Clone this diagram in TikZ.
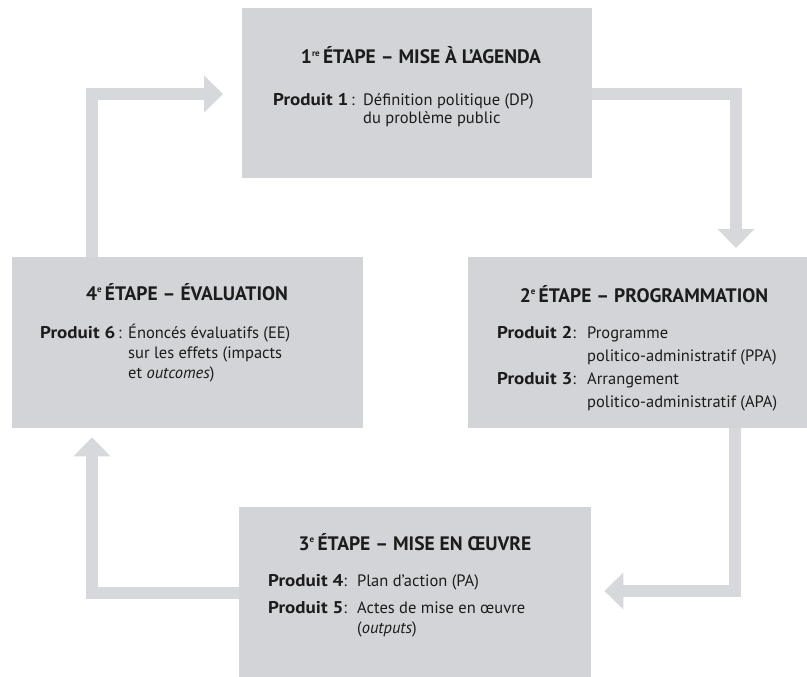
\documentclass[tikz,border=0pt]{standalone}
\usepackage{fontspec}
\setmainfont{PT Sans}
\usetikzlibrary{arrows.meta}
\definecolor{boxgray}{HTML}{D3D4D8}
\definecolor{arrowgray}{HTML}{D7D8DB}
\definecolor{ink}{HTML}{1C1C1C}
\tikzset{
  stagebox/.style={fill=boxgray, draw=none, inner sep=0pt, anchor=north west},
  heading/.style={font=\fontsize{19.5}{22}\selectfont\bfseries, text=ink, inner sep=0pt, anchor=base},
  prod/.style={font=\fontsize{16.5}{20}\selectfont, text=ink, inner sep=0pt, anchor=base west},
  flow/.style={draw=arrowgray, line width=12pt, line join=miter,
    -{Triangle[width=37pt,length=19pt,line width=0pt]}}
}
\newcommand{\prodlab}[1]{{\fontsize{17}{20}\selectfont\bfseries\addfontfeatures{FakeStretch=1.12}Produit #1}}
\newcommand{\ordsup}[1]{\raisebox{0.75ex}{\fontsize{9}{9}\selectfont #1}\,}
\begin{document}
\begin{tikzpicture}[x=1pt,y=-1pt]
\useasboundingbox (0,0) rectangle (807,677);
% boxes
\node[stagebox, minimum width=350pt, minimum height=170pt] (T) at (242,8) {};
\node[stagebox, minimum width=351pt, minimum height=171pt] (L) at (12,257) {};
\node[stagebox, minimum width=339pt, minimum height=171pt] (R) at (468,257) {};
\node[stagebox, minimum width=352pt, minimum height=170pt] (B) at (239,507) {};
% headings
\node[heading] (Th) at (421,64) {1\ordsup{re}ÉTAPE – MISE À L’AGENDA};
\node[heading] (Lh) at (187,300) {4\ordsup{e}ÉTAPE – ÉVALUATION};
\node[heading] (Rh) at (644,302) {2\ordsup{e}ÉTAPE – PROGRAMMATION};
\node[heading] (Bh) at (415,550) {3\ordsup{e}ÉTAPE – MISE EN ŒUVRE};
% products
\node[prod] (Tp) at (273,106) {\begin{tabular}[t]{@{}p{90pt}@{}l@{}}
\prodlab{1}\,: & Définition politique (DP)\\[-2pt]
 & du problème public
\end{tabular}};
\node[prod] (Lp) at (40,338) {\begin{tabular}[t]{@{}p{88pt}@{}l@{}}
\prodlab{6}\,: & Énoncés évaluatifs (EE)\\
 & sur les effets (impacts\\
 & et \textit{outcomes})
\end{tabular}};
\node[prod] (Rp) at (497,338) {\begin{tabular}[t]{@{}p{90pt}@{}l@{}}
\prodlab{2}: & Programme\\[3pt]
 & politico-administratif (PPA)\\[3pt]
\prodlab{3}: & Arrangement\\[3pt]
 & politico-administratif (APA)
\end{tabular}};
\node[prod] (Bp) at (268,586) {\begin{tabular}[t]{@{}p{89pt}@{}l@{}}
\prodlab{4}: & Plan d’action (PA)\\[7pt]
\prodlab{5}: & Actes de mise en œuvre\\
 & (\textit{outputs})
\end{tabular}};
% connectors
\draw[flow, shorten >=19pt] ([xshift=80pt]L.north west) |- ([yshift=-86pt]T.north west);
\draw[flow, shorten >=9pt] ([yshift=-86pt]T.north east) -| ([xshift=268pt]R.north west);
\draw[flow, shorten >=13pt] ([xshift=267pt]R.south west) |- ([yshift=-84pt]B.north east);
\draw[flow, shorten >=9pt] ([yshift=-86pt]B.north west) -| ([xshift=80pt]L.south west);
\end{tikzpicture}
\end{document}
